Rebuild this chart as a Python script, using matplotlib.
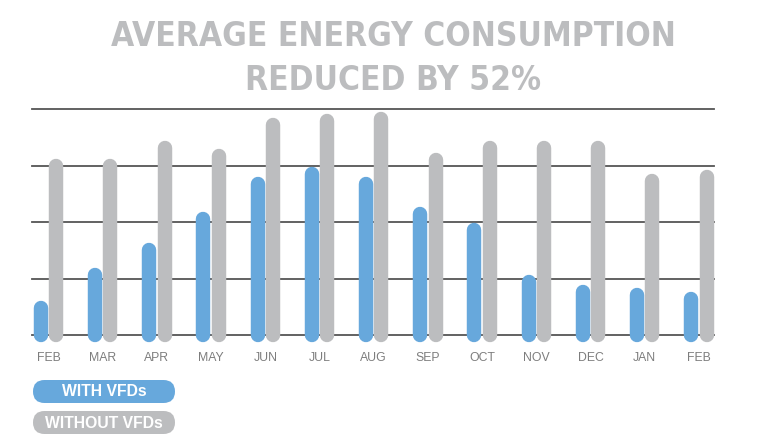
import matplotlib
matplotlib.use("Agg")
import matplotlib.pyplot as plt
from matplotlib.patches import FancyBboxPatch
import numpy as np

months = ["FEB", "MAR", "APR", "MAY", "JUN", "JUL", "AUG", "SEP", "OCT", "NOV", "DEC", "JAN", "FEB"]
with_vfds = [0.47, 1.07, 1.51, 2.06, 2.68, 2.85, 2.68, 2.15, 1.85, 0.94, 0.76, 0.70, 0.63]
without_vfds = [3.00, 3.00, 3.31, 3.16, 3.72, 3.79, 3.83, 3.10, 3.31, 3.31, 3.31, 2.73, 2.80]
grid_levels = [0, 1, 2, 3, 4]
title_lines = ["AVERAGE ENERGY CONSUMPTION", "REDUCED BY 52%"]
legend_labels = ["WITH VFDs", "WITHOUT VFDs"]

BLUE = "#67a8dc"
GREY = "#bcbdbf"
TITLE_GREY = "#bcbdbf"
GRID = "#555555"

W, H = 771, 441
fig = plt.figure(figsize=(W / 100, H / 100), dpi=100)
fig.patch.set_facecolor("white")

# main chart axes (pixel geometry: x 32..714, y 109..335)
ax = fig.add_axes([32 / W, (H - 335) / H, (714 - 32) / W, (335 - 109) / H])
ax.set_facecolor("none")
x = np.arange(len(months))
ax.set_xlim(-0.305, 12.28)
ax.set_ylim(0, 4)
for g in grid_levels:
    ax.axhline(g, color=GRID, lw=1.3, zorder=1, clip_on=False)
off = 0.143
lw = 10.4
ax.vlines(x - off, 0, with_vfds, colors=BLUE, linewidth=lw, capstyle="round", zorder=3, clip_on=False)
ax.vlines(x + off, 0, without_vfds, colors=GREY, linewidth=lw, capstyle="round", zorder=2, clip_on=False)
ax.set_xticks(x)
ax.set_xticklabels(months, fontfamily=["Liberation Sans", "DejaVu Sans"], fontsize=8.8, color="#7d7d7d")
ax.tick_params(axis="x", length=0, pad=12.5)
ax.set_yticks([])
for s in ax.spines.values():
    s.set_visible(False)

# overlay axes in pixel coordinates
ov = fig.add_axes([0, 0, 1, 1], zorder=5)
ov.set_xlim(0, W)
ov.set_ylim(H, 0)
ov.axis("off")
ov.patch.set_alpha(0)

tfam = ["Liberation Sans Narrow", "DejaVu Sans"]
t1 = ov.text(393, 46, title_lines[0], ha="center", va="baseline", fontsize=29,
             fontweight="bold", color=TITLE_GREY, family=tfam, fontstretch="condensed")
t2 = ov.text(393, 89.5, title_lines[1], ha="center", va="baseline", fontsize=29,
             fontweight="bold", color=TITLE_GREY, family=tfam, fontstretch="condensed")
fig.canvas.draw()
r = fig.canvas.get_renderer()
wext = t1.get_window_extent(r).width
scale = 565 / wext
for t in (t1, t2):
    t.set_fontsize(29 * scale)

# legend pills
pill_cols = [BLUE, GREY]
pill_y = [380, 411]
for lab, c, y0 in zip(legend_labels, pill_cols, pill_y):
    p = FancyBboxPatch((33, y0), 142, 23, boxstyle="round,pad=0,rounding_size=11.5",
                       facecolor=c, edgecolor="none")
    ov.add_patch(p)
    ov.text(104, y0 + 12, lab, ha="center", va="center", fontsize=11.3, fontweight="bold",
            color="white", family=["Liberation Sans", "DejaVu Sans"])

fig.savefig("out.png", dpi=100)
